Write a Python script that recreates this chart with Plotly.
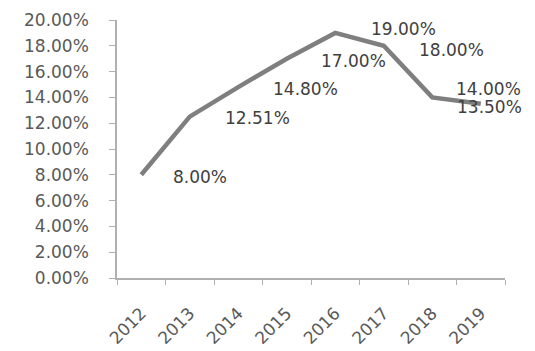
import plotly.graph_objects as go

years = ["2012", "2013", "2014", "2015", "2016", "2017", "2018", "2019"]
rates = [8.00, 12.51, 14.80, 17.00, 19.00, 18.00, 14.00, 13.50]
y_ticks = [0, 2, 4, 6, 8, 10, 12, 14, 16, 18, 20]

# label offsets in pixels (style only)
label_dx = [59, 68, 67, 67, 68, 68, 56, 9]
label_dy = [-2, -1, -2, -2, 4, -4, 8, -3]

FONT = "DejaVu Sans"
PCT = "&#37;"

fig = go.Figure()
fig.add_trace(go.Scatter(
    x=years, y=rates, mode="lines",
    line=dict(color="#7f7f7f", width=4.5),
    hoverinfo="skip", showlegend=False,
))

for i, (v, dx, dy) in enumerate(zip(rates, label_dx, label_dy)):
    fig.add_annotation(
        x=i, y=v, text=f"{v:.2f}{PCT}", showarrow=False,
        xshift=dx, yshift=dy, xanchor="center", yanchor="middle",
        font=dict(family=FONT, size=17, color="#404040"),
    )

fig.update_layout(
    width=535, height=351,
    margin=dict(l=117, r=30, t=20, b=73),
    paper_bgcolor="white", plot_bgcolor="white",
    showlegend=False,
)
fig.update_xaxes(
    type="category", range=[-0.5, 7.5], automargin=False,
    showline=True, linecolor="#b0b0b0", linewidth=1.5,
    ticks="outside", tickson="boundaries", ticklen=5, tickcolor="#b0b0b0",
    tickangle=-45, ticklabelstandoff=17,
    tickfont=dict(family=FONT, size=17, color="#595959"),
    showgrid=False, zeroline=False,
)
fig.update_yaxes(
    range=[0, 20], tickvals=y_ticks, automargin=False,
    ticktext=[f"{t:.2f}{PCT}" for t in y_ticks],
    showline=True, linecolor="#b0b0b0", linewidth=1.5,
    ticks="outside", ticklen=6, tickcolor="#b0b0b0", ticklabelstandoff=17,
    tickfont=dict(family=FONT, size=17, color="#595959"),
    showgrid=False, zeroline=False,
)

fig.write_html("out.html")
